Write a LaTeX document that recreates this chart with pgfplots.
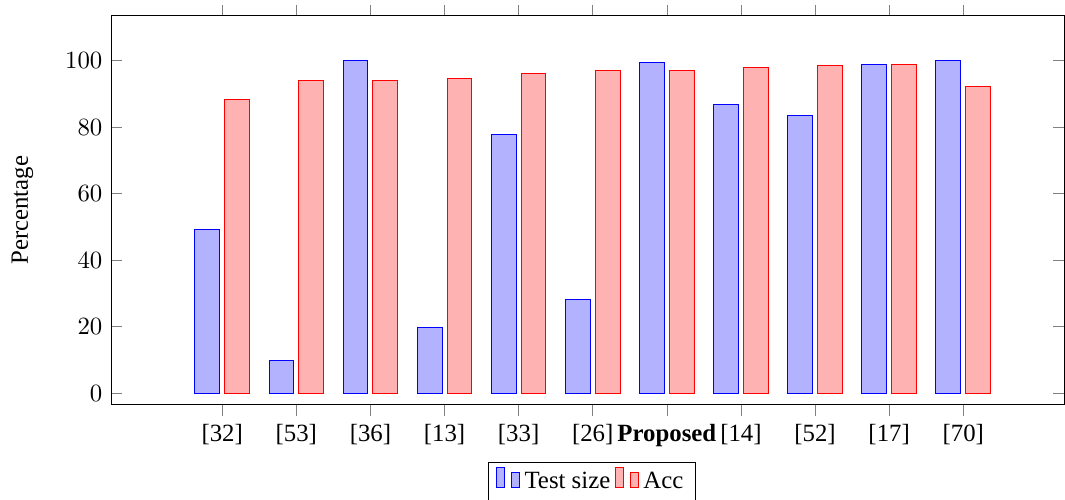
\documentclass[border=0pt]{standalone}
\usepackage{pgfplots}
\pgfplotsset{compat=1.18}
\usepackage{fontspec}
\setmainfont{Liberation Serif}
\begin{document}
\begin{tikzpicture}
\begin{axis}[
  scale only axis,
  width=384.3pt, height=157pt,
  ybar, bar width=10pt,
  xmin=-1.5, xmax=11.36,
  ymin=-3.5, ymax=113.5,
  xtick=data,
  xticklabels={[32],[53],[36],[13],[33],[26],\textbf{Proposed},[14],[52],[17],[70]},
  xtick align=outside,
  ytick={0,20,40,60,80,100},
  ylabel={Percentage},
  ylabel shift=6pt,
  legend style={at={(0.505,-0.146)},anchor=north,legend columns=-1},
]
\addplot coordinates {(0,49.1) (1,9.9) (2,100) (3,19.9) (4,77.7) (5,28.3) (6,99.5) (7,86.7) (8,83.4) (9,98.8) (10,100)};
\addplot coordinates {(0,88.3) (1,94.0) (2,94.1) (3,94.6) (4,96.1) (5,96.9) (6,97.0) (7,97.9) (8,98.5) (9,98.7) (10,92.2)};
\legend{Test size,Acc}
\end{axis}
\pgfresetboundingbox
\path[use as bounding box] ([shift={(-44.8pt,6.3pt)}]current axis.north west) rectangle ([shift={(0.4pt,-38.3pt)}]current axis.south east);
\end{tikzpicture}
\end{document}
